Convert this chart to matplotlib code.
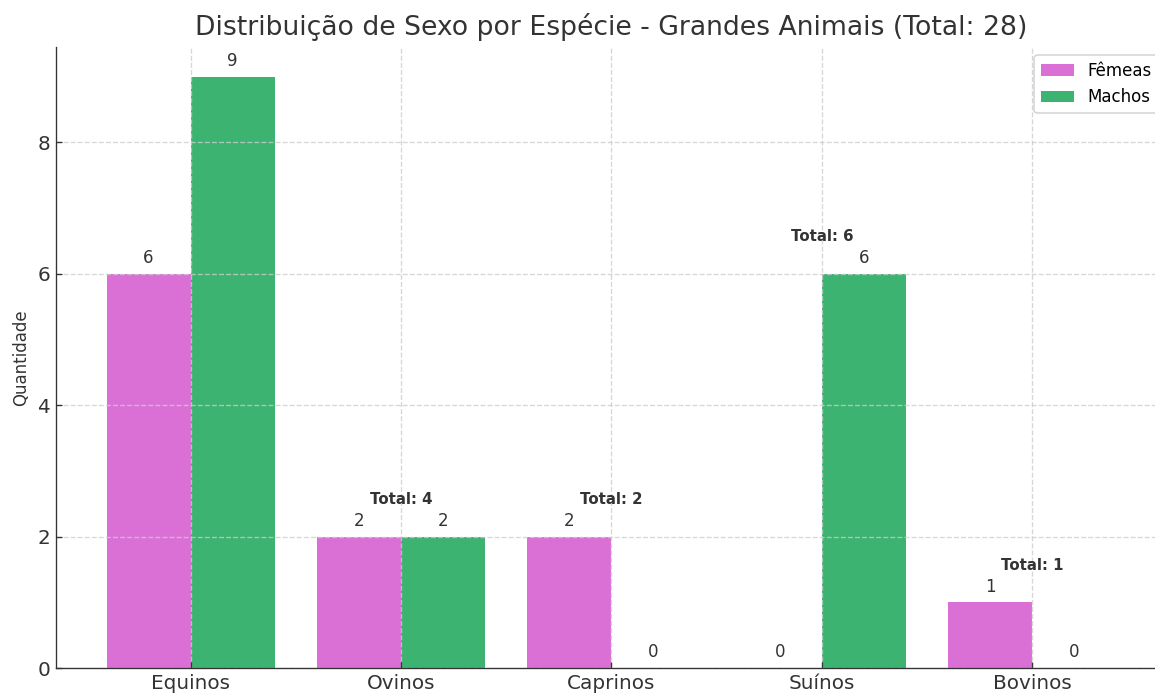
import numpy as np
import matplotlib
matplotlib.use('agg')
import matplotlib.pyplot as plt

# Contagem por espécie
especies = ['Equinos', 'Ovinos', 'Caprinos', 'Suínos', 'Bovinos']
femeas = [6, 2, 2, 0, 1]
machos = [9, 2, 0, 6, 0]

cor_femeas = '#DA70D6'
cor_machos = '#3CB371'


def plot_distribuicao():
	fig = plt.figure(figsize=(1155 / 120, 694 / 120), dpi=120)
	ax = fig.add_axes([56 / 1155, 1 - 668 / 694, 1111 / 1155, 621 / 694])

	x = np.arange(len(especies))
	largura = 0.4
	totais = [f + m for f, m in zip(femeas, machos)]
	total_geral = sum(totais)

	b1 = ax.bar(x - largura / 2, femeas, largura, color=cor_femeas, label='Fêmeas')
	b2 = ax.bar(x + largura / 2, machos, largura, color=cor_machos, label='Machos')

	# valores em cima de cada barra
	for barras in (b1, b2):
		for b in barras:
			h = b.get_height()
			ax.text(b.get_x() + b.get_width() / 2, h + 0.1, f'{int(h)}',
					ha='center', va='bottom', fontsize=10, color='#333333')

	ymax = max(max(femeas), max(machos)) * 1.05
	ax.set_ylim(0, ymax)

	# total por espécie, só quando o texto cabe dentro do eixo
	for i, t in enumerate(totais):
		y_total = max(femeas[i], machos[i]) + 0.45
		if y_total + 0.3 > ymax:
			continue
		ax.text(x[i], y_total, f'Total: {t}', ha='center', va='bottom',
				fontsize=9, fontweight='bold', color='#333333')

	ax.set_xticks(x)
	ax.set_xticklabels(especies, fontsize=12, color='#333333')
	ax.set_yticks([0, 2, 4, 6, 8])
	ax.tick_params(axis='y', labelsize=12, labelcolor='#333333')
	ax.tick_params(direction='in', color='#333333')
	ax.set_ylabel('Quantidade', fontsize=10, color='#333333')
	ax.set_title(f'Distribuição de Sexo por Espécie - Grandes Animais (Total: {total_geral})',
				 fontsize=16, color='#333333', pad=7)

	ax.spines['top'].set_visible(False)
	ax.spines['right'].set_visible(False)
	ax.spines['left'].set_color('#333333')
	ax.spines['bottom'].set_color('#333333')
	ax.grid(True, linestyle='--', color='#cccccc', linewidth=0.8, alpha=0.8)

	ax.legend(loc='upper right', fontsize=10)

	plt.savefig('out.png', dpi=120)


plot_distribuicao()
